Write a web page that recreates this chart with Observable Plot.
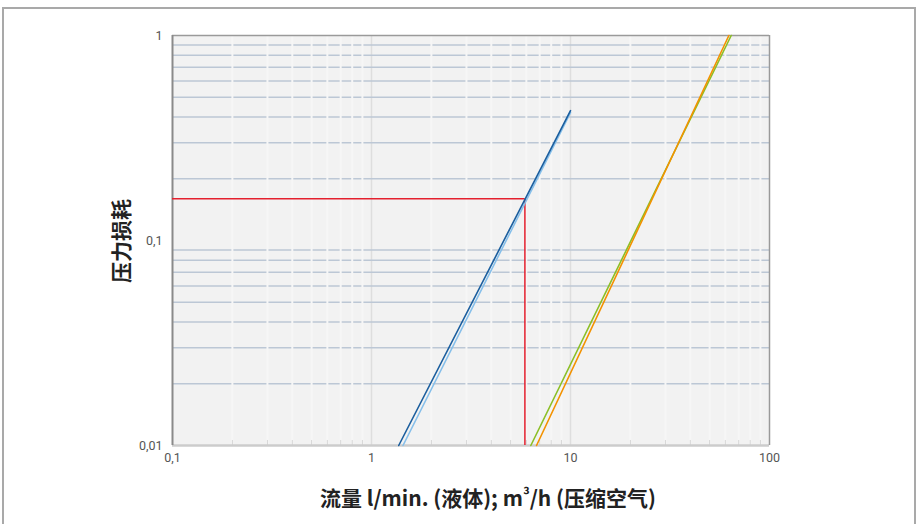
<!DOCTYPE html>
<html>
<head>
<meta charset="utf-8">
<script src="https://cdn.jsdelivr.net/npm/d3@7"></script>
<script src="https://cdn.jsdelivr.net/npm/@observablehq/plot@0.6"></script>
<style>
  html, body { margin: 0; padding: 0; background: #fff; width: 920px; height: 524px; overflow: hidden; }
  #wrap { position: relative; width: 920px; height: 524px; }
  #border { position: absolute; left: 2px; top: 7px; width: 914px; height: 540px; border: 2px solid #a9a9a9; box-sizing: border-box; }
  #chart { position: absolute; left: 0; top: 0; }
</style>
</head>
<body>
<div id="wrap"><div id="border"></div><div id="chart"></div></div>
<script>
// Axis ticks
const xTicks = [0.1, 1, 10, 100];
const yTicks = [0.01, 0.1, 1];
const xMajorGrid = [1, 10];
const xMinor = [0.2,0.3,0.4,0.5,0.6,0.7,0.8,0.9, 2,3,4,5,6,7,8,9, 20,30,40,50,60,70,80,90];
const yMinor = [0.02,0.03,0.04,0.05,0.06,0.07,0.08,0.09, 0.2,0.3,0.4,0.5,0.6,0.7,0.8,0.9];

// Series (flow, pressure loss)
const darkBlueFlow = [1.37, 10];
const darkBluePressure = [0.01, 0.43];
const lightBlueFlow = [1.44, 10];
const lightBluePressure = [0.01, 0.42];
const greenFlow = [6.32, 64.2];
const greenPressure = [0.01, 1];
const orangeFlow = [6.75, 62.5];
const orangePressure = [0.01, 1];

// Reading example (red)
const exampleFlow = [5.9];
const examplePressure = [0.16];

const xTitleParts = ["流量 l/min. (液体); m", "³", "/h (压缩空气)"];
const yTitle = "压力损耗";

const toRows = (xs, ys) => xs.map((x, i) => ({x, y: ys[i]}));
const fmt = d => String(d).replace(".", ",");

const W = 920, H = 524;
const chart = Plot.plot({
  width: W, height: H,
  marginLeft: 172, marginRight: 151, marginTop: 35, marginBottom: 79,
  style: {fontFamily: "Roboto, 'Liberation Sans', sans-serif", fontSize: "12.5px", color: "#555", background: "transparent"},
  x: {type: "log", domain: [0.1, 100], label: null},
  y: {type: "log", domain: [0.01, 1], label: null},
  marks: [
    Plot.frame({fill: "#f2f2f2", stroke: null}),
    Plot.ruleX(xMajorGrid, {stroke: "#dedede", strokeWidth: 1.5}),
    Plot.ruleY(yMinor, {stroke: "#bcc7d5", strokeWidth: 1.5}),
    Plot.ruleX(xMinor, {stroke: "#f6f6f6", strokeWidth: 2}),
    Plot.axisX({ticks: xMinor, tickSize: -5, tickFormat: () => "", stroke: "#d6d6d6"}),
    Plot.axisX({ticks: xTicks, tickFormat: fmt, tickSize: 0, tickPadding: 8, fill: "#555"}),
    Plot.axisY({ticks: yTicks, tickFormat: fmt, tickSize: 0, tickPadding: 10, fill: "#555"}),
    // plot border
    Plot.ruleY([0.01], {stroke: "#cccccc", strokeWidth: 2.5}),
    Plot.ruleY([1], {stroke: "#9a9a9a", strokeWidth: 1.5}),
    Plot.ruleX([100], {stroke: "#9a9a9a", strokeWidth: 1.5}),
    Plot.ruleX([0.1], {stroke: "#8a8a8a", strokeWidth: 2}),
    // red reading lines
    Plot.ruleY(examplePressure, {x1: 0.1, x2: exampleFlow[0], stroke: "#e4202e", strokeWidth: 1.5}),
    Plot.ruleX(exampleFlow, {y1: 0.01, y2: examplePressure[0], stroke: "#e4202e", strokeWidth: 1.5}),
    // series
    Plot.line(toRows(lightBlueFlow, lightBluePressure), {x: "x", y: "y", stroke: "#86bfea", strokeWidth: 1.6}),
    Plot.line(toRows(darkBlueFlow, darkBluePressure), {x: "x", y: "y", stroke: "#1b5e9e", strokeWidth: 1.6}),
    Plot.line(toRows(greenFlow, greenPressure), {x: "x", y: "y", stroke: "#8cbf26", strokeWidth: 1.6}),
    Plot.line(toRows(orangeFlow, orangePressure), {x: "x", y: "y", stroke: "#f39200", strokeWidth: 1.6})
  ]
});

const svg = d3.select(chart);
const xt = svg.append("text")
  .attr("x", 488).attr("y", 497)
  .attr("text-anchor", "middle").attr("dominant-baseline", "central")
  .attr("font-family", "'Noto Sans CJK SC', 'Noto Sans', sans-serif")
  .attr("font-weight", "bold").attr("font-size", 21).attr("fill", "#222");
xt.append("tspan").text(xTitleParts[0]);
xt.append("tspan").attr("font-size", 16).attr("dy", -3).text(xTitleParts[1]);
xt.append("tspan").attr("dy", 3).text(xTitleParts[2]);
svg.append("text")
  .attr("transform", "translate(120,241) rotate(-90)")
  .attr("text-anchor", "middle").attr("dominant-baseline", "central")
  .attr("font-family", "'Noto Sans CJK SC', 'Noto Sans', sans-serif")
  .attr("font-weight", "bold").attr("font-size", 21).attr("fill", "#222")
  .text(yTitle);

document.getElementById("chart").appendChild(chart);
</script>
</body>
</html>
